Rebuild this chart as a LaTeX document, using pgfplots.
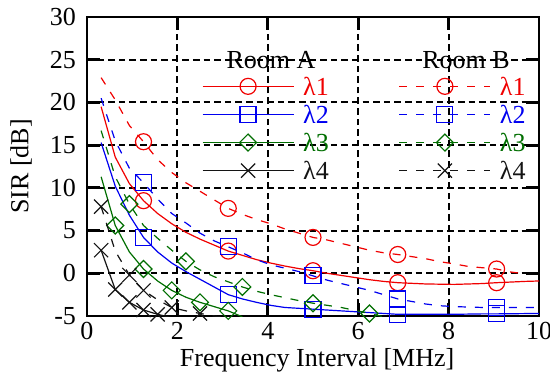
\documentclass[border=0pt]{standalone}
\usepackage{fontspec}
\setmainfont{Liberation Serif}
\usepackage{pgfplots}
\pgfplotsset{compat=1.18}
\definecolor{cred}{RGB}{240,0,0}
\definecolor{cblue}{RGB}{0,0,240}
\definecolor{cgreen}{RGB}{0,110,0}
\definecolor{cblack}{RGB}{20,20,20}
\begin{document}
\fontsize{13}{15}\selectfont
\begin{tikzpicture}
\begin{axis}[
  name=ax,
  scale only axis, width=226pt, height=149.5pt,
  xmin=0, xmax=10, ymin=-5, ymax=30,
  xtick={0,2,...,10}, ytick={-5,0,...,30},
  /pgf/number format/assume math mode=true,
  tick align=inside, major tick length=6.5pt,
  every tick/.style={black, line width=1.4pt},
  axis line style={line width=1.4pt},
  grid=major,
  major grid style={black, line width=1pt, dash pattern=on 3.3pt off 2pt},
  xticklabel style={yshift=1.5pt},
  yticklabel style={xshift=-1pt},
  xlabel={Frequency Interval [MHz]},
  ylabel={SIR [dB]},
  xlabel style={at={(axis description cs:0.509,-0.17)}, anchor=base},
  ylabel style={at={(axis description cs:-0.146,0.5)}, anchor=center},
  legend columns=2,
  legend style={at={(axis cs:2.544,23.4)}, anchor=north west, draw=none, fill=none,
    inner sep=0pt, outer sep=0pt, row sep=1.1pt, column sep=4.5pt,
    cells={anchor=west}, nodes={inner sep=0pt},
    /tikz/every even column/.append style={column sep=35pt, text height=11pt, text depth=0.4pt}},
  legend image code/.code={\draw[mark repeat=2,mark phase=2] plot coordinates {(0pt,0pt) (22.75pt,0pt) (45.5pt,0pt)};},
  clip mode=individual,
]
% ---------- Room A lambda1 (solid red)
\addplot[cred, line width=0.6pt, forget plot] table {
0.3125 19.5
0.625 13.6
0.9375 10.5
1.25 8.5
1.5625 7.0
1.875 5.8
2.1875 4.8
2.5 4.0
2.8125 3.3
3.125 2.6
3.4375 2.1
3.75 1.6
4.0625 1.2
4.375 0.85
4.6875 0.55
5.0 0.3
5.3125 0.0
5.625 -0.25
5.9375 -0.5
6.25 -0.75
6.5625 -0.95
6.875 -1.1
7.5 -1.25
8.125 -1.3
8.75 -1.2
9.0625 -1.1
9.6875 -0.95
10 -0.9
};
\addplot[cred, only marks, mark=o, mark size=4pt, line width=0.6pt, forget plot] coordinates {(1.25,8.5) (3.125,2.6) (5,0.3) (6.875,-1.1) (9.0625,-1.1)};
% ---------- Room B lambda1 (dashed red)
\addplot[cred, line width=0.6pt, dash pattern=on 4pt off 4.5pt, forget plot] table {
0.3125 22.9
0.625 20.3
0.9375 17.3
1.25 15.4
1.5625 13.3
1.875 11.8
2.1875 10.6
2.5 9.6
2.8125 8.6
3.125 7.6
3.4375 6.9
3.75 6.3
4.0625 5.8
4.375 5.2
4.6875 4.7
5.0 4.2
5.3125 3.9
5.625 3.5
5.9375 3.1
6.25 2.7
6.5625 2.4
6.875 2.2
7.1875 1.95
7.5 1.7
7.8125 1.35
8.125 1.1
8.4375 0.8
8.75 0.65
9.0625 0.5
9.375 0.15
9.6 0.0
};
\addplot[cred, only marks, mark=o, mark size=4pt, line width=0.6pt, forget plot] coordinates {(1.25,15.4) (3.125,7.6) (5,4.2) (6.875,2.2) (9.0625,0.5)};
% ---------- Room A lambda2 (solid blue)
\addplot[cblue, line width=0.6pt, forget plot] table {
0.3125 15.3
0.625 10.2
0.9375 6.8
1.25 4.2
1.5625 2.5
1.875 1.2
2.1875 0.2
2.5 -0.7
2.8125 -1.6
3.125 -2.5
3.4375 -3.0
3.75 -3.4
4.0625 -3.75
4.375 -4.0
4.6875 -4.1
5.0 -4.2
5.625 -4.4
6.25 -4.6
6.875 -4.8
7.5 -4.8
8.125 -4.8
8.75 -4.75
9.0625 -4.75
10 -4.7
};
\addplot[cblue, only marks, mark=square, mark size=4pt, line width=0.6pt, forget plot] coordinates {(1.25,4.2) (3.125,-2.5) (5,-4.2) (6.875,-4.8) (9.0625,-4.75)};
% ---------- Room B lambda2 (dashed blue)
\addplot[cblue, line width=0.6pt, dash pattern=on 4pt off 4.5pt, forget plot] table {
0.3125 20.5
0.625 15.5
0.9375 12.3
1.25 10.6
1.5625 8.7
1.875 7.0
2.1875 5.9
2.5 4.7
2.8125 3.8
3.125 3.1
3.4375 2.4
3.75 1.6
4.0625 1.0
4.375 0.6
4.6875 0.2
5.0 -0.3
5.3125 -0.8
5.625 -1.2
5.9375 -1.6
6.25 -2.0
6.5625 -2.5
6.875 -3.0
7.1875 -3.3
7.5 -3.6
7.8125 -3.8
8.125 -3.9
8.75 -4.0
9.0625 -4.0
10 -4.0
};
\addplot[cblue, only marks, mark=square, mark size=4pt, line width=0.6pt, forget plot] coordinates {(1.25,10.6) (3.125,3.1) (5,-0.3) (6.875,-3.0) (9.0625,-4.0)};
% ---------- Room A lambda3 (solid green)
\addplot[cgreen, line width=0.6pt, forget plot] table {
0.3125 11.3
0.625 5.6
0.9375 2.5
1.25 0.5
1.5625 -0.9
1.875 -2.0
2.1875 -2.8
2.5 -3.4
2.8125 -3.9
3.125 -4.4
3.4375 -5.1
};
\addplot[cgreen, only marks, mark=square, mark size=3pt, mark options={rotate=45}, line width=0.6pt, forget plot] coordinates {(0.625,5.6) (1.25,0.5) (1.875,-2.0) (2.5,-3.4) (3.125,-4.4)};
% ---------- Room B lambda3 (dashed green)
\addplot[cgreen, line width=0.6pt, dash pattern=on 4pt off 4.5pt, forget plot] table {
0.3125 16.7
0.625 11.3
0.9375 8.1
1.25 5.6
1.5625 4.1
1.875 2.7
2.1875 1.4
2.5 0.4
2.8125 -0.4
3.125 -1.0
3.4375 -1.6
3.75 -2.1
4.0625 -2.5
4.375 -2.85
4.6875 -3.2
5.0 -3.5
5.3125 -3.75
5.625 -4.0
5.9375 -4.35
6.25 -4.7
6.5625 -5.1
};
\addplot[cgreen, only marks, mark=square, mark size=3pt, mark options={rotate=45}, line width=0.6pt, forget plot] coordinates {(0.9375,8.1) (2.1875,1.4) (3.4375,-1.6) (5,-3.5) (6.25,-4.7)};
% ---------- Room A lambda4 (solid black)
\addplot[cblack, line width=0.6pt, forget plot] table {
0.3125 2.7
0.625 -1.9
0.9375 -3.4
1.25 -4.3
1.5625 -4.8
1.875 -5.2
};
\addplot[cblack, only marks, mark=x, mark size=5pt, line width=0.6pt, forget plot] coordinates {(0.3125,2.7) (0.625,-1.9) (0.9375,-3.4) (1.25,-4.3) (1.5625,-4.8)};
% ---------- Room B lambda4 (dashed black)
\addplot[cblack, line width=0.6pt, dash pattern=on 4pt off 4.5pt, forget plot] table {
0.3125 7.8
0.625 2.6
0.9375 -0.2
1.25 -2.0
1.5625 -3.1
1.875 -4.0
2.1875 -4.4
2.5 -4.7
2.8125 -5.0
3.125 -5.2
};
\addplot[cblack, only marks, mark=x, mark size=5pt, line width=0.6pt, forget plot] coordinates {(0.3125,7.8) (0.9375,-0.2) (1.25,-2.0) (1.875,-4.0) (2.5,-4.7)};
% ---------- legend
\addlegendimage{cred, line width=0.6pt, mark=o, mark size=4pt}
\addlegendentry{\textcolor{cred}{λ1}}
\addlegendimage{cred, line width=0.6pt, dash pattern=on 4pt off 4.5pt, mark=o, mark size=4pt, mark options={solid}}
\addlegendentry{\textcolor{cred}{λ1}}
\addlegendimage{cblue, line width=0.6pt, mark=square, mark size=4pt}
\addlegendentry{\textcolor{cblue}{λ2}}
\addlegendimage{cblue, line width=0.6pt, dash pattern=on 4pt off 4.5pt, mark=square, mark size=4pt, mark options={solid}}
\addlegendentry{\textcolor{cblue}{λ2}}
\addlegendimage{cgreen, line width=0.6pt, mark=square, mark size=3pt, mark options={rotate=45}}
\addlegendentry{\textcolor{cgreen}{λ3}}
\addlegendimage{cgreen, line width=0.6pt, dash pattern=on 4pt off 4.5pt, mark=square, mark size=3pt, mark options={rotate=45, solid}}
\addlegendentry{\textcolor{cgreen}{λ3}}
\addlegendimage{cblack, line width=0.6pt, mark=x, mark size=5pt}
\addlegendentry{\textcolor{cblack}{λ4}}
\addlegendimage{cblack, line width=0.6pt, dash pattern=on 4pt off 4.5pt, mark=x, mark size=5pt, mark options={solid}}
\addlegendentry{\textcolor{cblack}{λ4}}
\node[anchor=base, inner sep=0pt] at (axis cs:4.07,24.0) {Room A};
\node[anchor=base, inner sep=0pt] at (axis cs:8.385,24.0) {Room B};
\end{axis}
\pgfresetboundingbox
\path[use as bounding box] ([xshift=-43.5pt,yshift=-27.5pt]ax.south west) rectangle ([xshift=5.5pt,yshift=8.5pt]ax.north east);
\end{tikzpicture}
\end{document}
